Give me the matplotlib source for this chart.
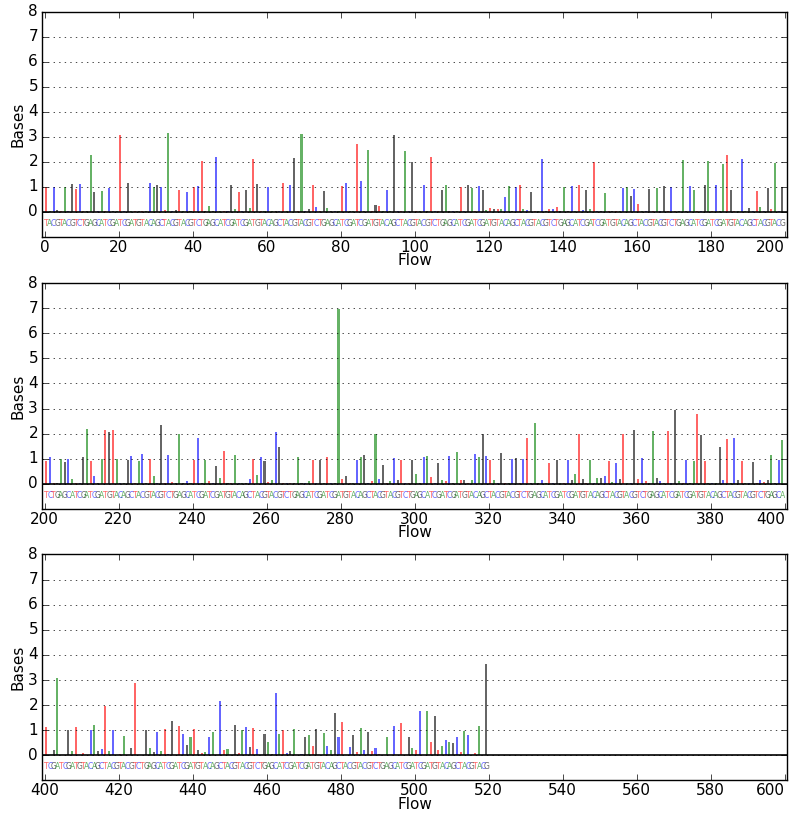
import numpy as np
import matplotlib
matplotlib.use('Agg')
import matplotlib.pyplot as plt

plt.style.use('classic')
plt.rcParams['font.size'] = 11
plt.rcParams['figure.facecolor'] = 'white'
plt.rcParams['savefig.facecolor'] = 'white'
plt.rcParams['xtick.major.pad'] = 2
plt.rcParams['ytick.major.pad'] = 3

# 454 titanium flow order, repeated over all flows
flow_order = 'TACGTACGTCTGAGCATCGATCGATGTACAGC'
base_colors = {'T': 'r', 'A': 'g', 'C': 'b', 'G': 'k'}

# flowgram values (bases per flow)
flows_1 = [
    1.00, 0.05, 0.98, 0.08, 0.03, 1.00, 0.03, 1.10, 0.90, 1.10,
    0.03, 0.03, 2.28, 0.81, 0.03, 0.85, 0.03, 0.97, 0.03, 0.03,
    3.08, 0.03, 1.16, 0.03, 0.03, 0.03, 0.03, 0.03, 1.16, 1.00,
    1.08, 1.00, 0.08, 3.17, 0.05, 0.07, 0.89, 0.03, 0.80, 0.03,
    1.00, 1.04, 2.03, 0.03, 0.25, 0.05, 2.21, 0.03, 0.03, 0.03,
    1.07, 0.13, 0.80, 0.03, 0.89, 0.15, 2.10, 1.12, 0.03, 0.03,
    1.00, 0.03, 0.03, 0.03, 1.16, 0.03, 1.08, 2.17, 0.03, 3.12,
    0.03, 0.10, 1.08, 0.19, 0.05, 0.84, 0.16, 0.05, 0.05, 0.03,
    1.03, 1.16, 0.03, 0.03, 2.72, 1.23, 0.03, 2.47, 0.03, 0.28,
    0.25, 0.03, 0.88, 0.03, 3.08, 0.03, 0.05, 2.44, 0.03, 1.99,
    0.05, 0.03, 1.07, 0.05, 2.21, 0.03, 0.05, 0.87, 1.09, 0.03,
    0.03, 0.03, 1.00, 0.05, 1.08, 0.97, 0.03, 1.04, 0.89, 0.09,
    0.16, 0.12, 0.10, 0.10, 0.61, 1.03, 0.03, 0.99, 1.07, 0.10,
    0.08, 0.79, 0.03, 0.05, 2.12, 0.03, 0.13, 0.10, 0.20, 0.03,
    1.00, 0.03, 1.04, 0.05, 1.09, 0.08, 0.87, 0.13, 2.00, 0.03,
    0.05, 0.77, 0.03, 0.03, 0.03, 0.03, 0.95, 1.00, 0.64, 0.93,
    0.32, 0.03, 0.05, 0.93, 0.03, 0.97, 0.03, 1.03, 0.03, 1.00,
    0.03, 0.03, 2.08, 0.03, 1.03, 0.87, 0.03, 0.03, 1.08, 2.05,
    0.03, 1.08, 0.03, 1.93, 2.28, 0.87, 0.03, 0.03, 2.12, 0.03,
    0.16, 0.03, 0.85, 0.20, 0.03, 0.97, 0.10, 1.95, 0.03, 1.00,
]
flows_2 = [
    0.91, 1.09, 0.03, 0.03, 0.99, 0.86, 1.00, 0.21, 0.03, 0.03,
    1.06, 2.20, 0.93, 0.32, 0.03, 1.00, 2.13, 2.08, 2.13, 1.00,
    0.03, 0.03, 0.94, 1.11, 0.03, 0.90, 1.18, 0.03, 1.00, 0.32,
    0.03, 2.36, 0.03, 1.15, 0.07, 0.03, 2.00, 0.05, 0.10, 0.03,
    0.94, 1.84, 0.03, 0.94, 0.10, 0.03, 0.73, 0.22, 1.31, 0.05,
    0.05, 1.17, 0.03, 0.03, 0.03, 0.20, 1.00, 0.36, 1.06, 0.93,
    0.08, 0.15, 2.08, 1.47, 0.03, 0.03, 0.03, 0.05, 1.09, 0.03,
    0.03, 0.10, 0.94, 0.03, 0.94, 0.03, 1.09, 0.03, 0.03, 6.98,
    0.20, 0.33, 0.03, 0.03, 0.95, 1.07, 1.15, 0.03, 0.10, 2.00,
    0.21, 0.75, 0.03, 0.10, 1.05, 0.17, 0.94, 0.05, 0.03, 0.94,
    0.41, 0.05, 1.09, 1.11, 0.29, 0.03, 0.85, 0.15, 0.10, 1.13,
    0.05, 1.28, 0.15, 0.15, 0.03, 0.17, 1.19, 1.06, 2.00, 1.10,
    0.95, 0.17, 0.03, 1.22, 0.03, 0.03, 1.00, 1.05, 0.03, 1.00,
    1.82, 0.03, 2.44, 0.03, 0.17, 0.03, 0.84, 0.05, 0.94, 0.05,
    0.03, 0.95, 0.15, 0.38, 2.00, 0.20, 0.03, 0.94, 0.05, 0.22,
    0.22, 0.32, 0.90, 0.08, 0.84, 0.20, 2.00, 0.05, 0.03, 2.13,
    0.20, 1.02, 0.10, 0.03, 2.10, 0.25, 0.10, 0.03, 2.10, 0.03,
    2.94, 0.12, 0.03, 0.95, 0.03, 0.90, 2.77, 1.95, 0.93, 0.05,
    0.03, 0.03, 1.47, 0.15, 1.80, 0.03, 1.83, 0.15, 0.90, 0.03,
    0.03, 0.87, 0.03, 0.17, 0.08, 0.17, 1.15, 0.03, 0.97, 1.73,
]
flows_3 = [
    1.11, 0.03, 0.21, 3.10, 0.03, 0.03, 1.00, 0.16, 1.11, 0.03,
    0.10, 0.03, 1.00, 1.22, 0.17, 0.26, 1.98, 0.16, 1.00, 0.03,
    0.05, 0.77, 0.03, 0.29, 2.89, 0.03, 0.03, 1.00, 0.30, 0.13,
    0.95, 0.17, 1.06, 0.05, 1.38, 0.03, 1.15, 0.86, 0.40, 0.73,
    1.06, 0.21, 0.08, 0.15, 0.74, 0.94, 0.03, 2.15, 0.21, 0.26,
    0.03, 1.19, 0.10, 1.00, 1.11, 0.32, 1.09, 0.26, 0.03, 0.87,
    0.52, 0.05, 2.50, 0.85, 1.00, 0.08, 0.17, 1.03, 0.03, 0.05,
    0.74, 0.83, 0.36, 1.03, 0.03, 0.89, 0.36, 0.21, 1.67, 0.74,
    1.32, 0.03, 0.33, 0.83, 0.12, 1.07, 0.21, 0.94, 0.17, 0.29,
    0.05, 0.03, 0.72, 0.03, 1.15, 0.03, 1.28, 0.03, 0.72, 0.29,
    0.21, 1.76, 0.03, 1.76, 0.52, 1.58, 0.21, 0.36, 0.62, 0.52,
    0.48, 0.72, 0.12, 0.98, 0.83, 0.03, 0.10, 1.15, 0.03, 3.62,
]

fig = plt.figure(figsize=(7.96, 8.14), dpi=100)
rects = [
    [0.053, 0.709, 0.936, 0.2764],
    [0.053, 0.3747, 0.936, 0.2776],
    [0.053, 0.0412, 0.936, 0.2776],
]

for i, vals in enumerate([flows_1, flows_2, flows_3]):
    ax = fig.add_axes(rects[i])
    start = 200 * i
    x = np.arange(start, start + len(vals))
    letters = [flow_order[f % len(flow_order)] for f in x]
    colors = [base_colors[c] for c in letters]

    ax.bar(x + 0.12, vals, width=0.55, align='edge', color=colors,
           alpha=0.6, linewidth=0, edgecolor='none', antialiased=False)
    ax.axhline(0, color='k', lw=1.2)
    for f, c in zip(x, letters):
        ax.text(f + 0.4, -0.45, c, color=base_colors[c], alpha=0.6,
                fontsize=5.5, ha='center', va='center')

    ax.set_xlim(start - 0.7, start + 200.7)
    ax.set_ylim(-1, 8)
    ax.set_yticks(range(9))
    ax.set_xticks(range(start, start + 201, 20))
    # last tick label sits inside the figure edge
    ax.xaxis.get_major_ticks()[-1].label1.set_horizontalalignment('right')
    ax.yaxis.grid(True, linestyle=':', color='k')
    ax.set_xlabel('Flow', labelpad=-1)
    ax.set_ylabel('Bases', labelpad=2)

fig.savefig('out.png', dpi=100)
